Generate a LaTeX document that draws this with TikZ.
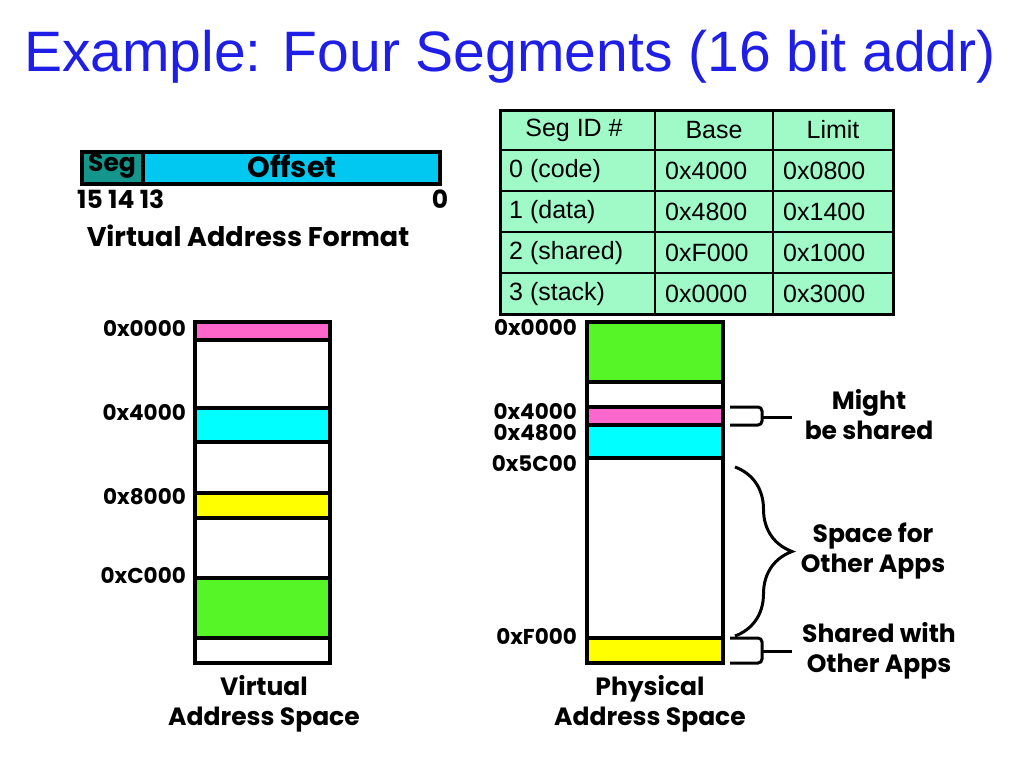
\documentclass[tikz,border=0pt]{standalone}
\usepackage{fontspec}
\setmainfont{Liberation Sans}
\newfontfamily\comicfont{Poppins}
\usetikzlibrary{decorations.pathreplacing}
\definecolor{titleblue}{RGB}{30,30,230}
\definecolor{segteal}{RGB}{20,150,140}
\definecolor{offcyan}{RGB}{0,200,240}
\definecolor{tablemint}{RGB}{160,250,200}
\definecolor{codepink}{RGB}{255,102,204}
\definecolor{datacyan}{RGB}{0,255,255}
\definecolor{sharedyellow}{RGB}{255,255,0}
\definecolor{stackgreen}{RGB}{85,245,40}
\begin{document}
\begin{tikzpicture}[x=1pt,y=-1pt,
    lbl/.style={font=\comicfont\bfseries\fontsize{25}{30}\selectfont,inner sep=0pt},
    addr/.style={font=\comicfont\bfseries\fontsize{21.5}{24}\selectfont,inner sep=0pt,anchor=east},
    cell/.style={font=\fontsize{25}{28}\selectfont,inner sep=0pt},
    band/.style={line width=4pt},
    bracket/.style={line width=3pt,rounded corners=4pt}]
    \fill[white] (0,0) rectangle (1024,768);
    \useasboundingbox (0,0) rectangle (1024,768);

    \node[font=\fontsize{57}{60}\selectfont,text=titleblue] (title) at (510,57)
        {Example: Four Segments (16 bit addr)};

    % virtual address format
    \draw[band,fill=segteal] (82,152) rectangle (143,184);
    \draw[band,fill=offcyan] (143,152) rectangle (440,184);
    \node[lbl,font=\comicfont\bfseries\fontsize{25}{30}\selectfont] (seg) at (112,166) {Seg};
    \node[lbl,font=\comicfont\bfseries\fontsize{29}{30}\selectfont] (off) at (292,166) {Offset};
    \node[lbl,anchor=west] (bits) at (77,199) {15 14 13};
    \node[lbl] (bitzero) at (440,199) {0};
    \node[lbl,font=\comicfont\bfseries\fontsize{27}{30}\selectfont] (fmt) at (248,236)
        {Virtual Address Format};

    % segment table
    \fill[tablemint] (500,110) rectangle (893,314);
    \foreach \y in {150,191,232,273}
        \draw[line width=2pt] (500,\y) -- (893,\y);
    \foreach \x in {655,773}
        \draw[line width=2pt] (\x,110) -- (\x,314);
    \draw[line width=3pt] (500,110) rectangle (893,314);
    \node[cell] (hid) at (574,130) {Seg ID \#};
    \node[cell] (hbase) at (714,130) {Base};
    \node[cell] (hlim) at (833,130) {Limit};
    \foreach \id/\base/\lim [count=\i] in
        {0 (code)/0x4000/0x0800,1 (data)/0x4800/0x1400,
         2 (shared)/0xF000/0x1000,3 (stack)/0x0000/0x3000}{
        \node[cell,anchor=west] (id\i) at (509,130+41*\i) {\id};
        \node[cell,anchor=west] (base\i) at (665,130+41*\i) {\base};
        \node[cell,anchor=west] (lim\i) at (783,130+41*\i) {\lim};
    }

    % virtual address space
    \draw[band,fill=codepink] (195,322) rectangle (330,340);
    \draw[band,fill=datacyan] (195,408) rectangle (330,442);
    \draw[band,fill=sharedyellow] (195,493) rectangle (330,518);
    \draw[band,fill=stackgreen] (195,578) rectangle (330,638);
    \draw[band] (195,322) rectangle (330,663);
    \node[addr] (va0) at (186,328) {0x0000};
    \node[addr] (va4) at (186,412) {0x4000};
    \node[addr] (va8) at (186,497) {0x8000};
    \node[addr] (vac) at (186,576) {0xC000};
    \node[lbl,align=center] (vas) at (264,704) {Virtual\\Address Space};

    % physical address space
    \draw[band,fill=stackgreen] (587,322) rectangle (723,382);
    \draw[band,fill=codepink] (587,407) rectangle (723,425);
    \draw[band,fill=datacyan] (587,425) rectangle (723,458);
    \draw[band,fill=sharedyellow] (587,638) rectangle (723,663);
    \draw[band] (587,322) rectangle (723,663);
    \node[addr] (pa0) at (577,327) {0x0000};
    \node[addr] (pa4) at (577,411) {0x4000};
    \node[addr] (pa48) at (577,433) {0x4800};
    \node[addr] (pa5c) at (577,464) {0x5C00};
    \node[addr] (paf) at (577,636) {0xF000};
    \node[lbl,align=center] (pas) at (650,704) {Physical\\Address Space};

    % braces
    \draw[bracket] (730,407) -- (762,407) -- (762,425) -- (730,425);
    \draw[bracket] (762,417) -- (792,417);
    \draw[line width=3pt,decorate,decoration={brace,amplitude=57pt}]
        (735,467) -- (735,636);
    \draw[bracket] (730,638) -- (762,638) -- (762,663) -- (730,663);
    \draw[bracket] (762,651) -- (792,651);
    \node[lbl,align=center] (might) at (869,415) {Might\\be shared};
    \node[lbl,align=center] (space) at (873,551) {Space for\\Other Apps};
    \node[lbl,align=center] (shared) at (879,651) {Shared with\\Other Apps};
\end{tikzpicture}
\end{document}
